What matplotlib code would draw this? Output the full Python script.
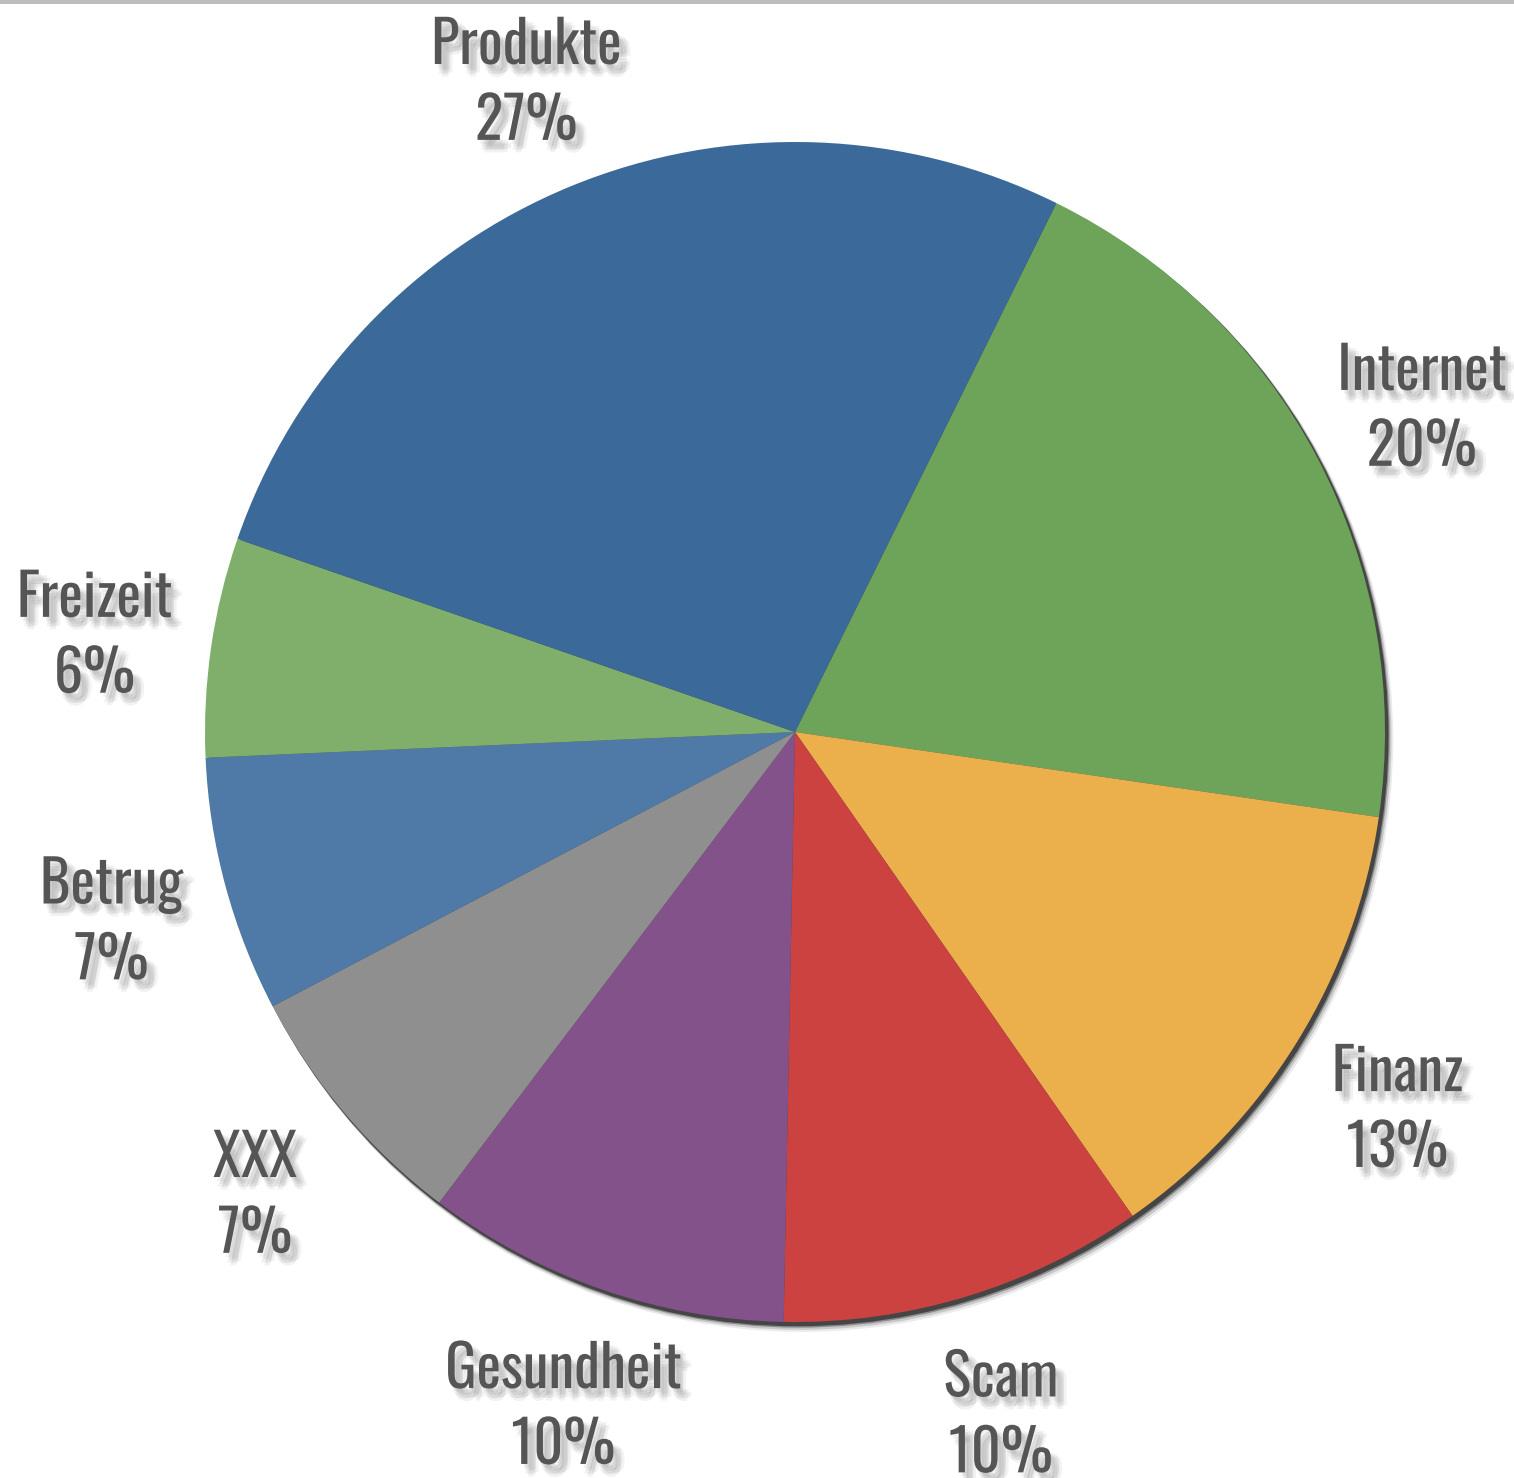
import matplotlib
matplotlib.use("Agg")
import matplotlib.pyplot as plt
import matplotlib.patheffects as pe
import matplotlib.transforms as mtransforms
from matplotlib.patches import Circle, Rectangle

categories = ["Internet", "Finanz", "Scam", "Gesundheit", "XXX", "Betrug", "Freizeit", "Produkte"]
values = [20, 13, 10, 10, 7, 7, 6, 27]
colors = ["#6DA45A", "#EBAF4C", "#CB4240", "#84528B", "#8E8F8E", "#4F7AA8", "#7FAF6B", "#3B6A9A"]

W, H = 1514, 1478
cx, cy, R = 795, 732, 590

fig = plt.figure(figsize=(W / 100, H / 100), dpi=100)
fig.patch.set_facecolor("white")
ax = fig.add_axes([0, 0, 1, 1])
ax.set_xlim(-cx / R, (W - cx) / R)
ax.set_ylim((cy - H) / R, cy / R)
ax.set_aspect("equal")
ax.axis("off")

# soft drop shadow behind pie
for off, a in [(0.014, 0.08), (0.011, 0.15), (0.008, 0.3), (0.006, 0.5)]:
    ax.add_patch(Circle((off * 0.8, -off), 1.0 + off * 0.2, color="black", alpha=a, lw=0, zorder=1))

labels = [f"{c}\n{v}%" for c, v in zip(categories, values)]
wedges, texts = ax.pie(values, colors=colors, startangle=63.7, counterclock=False,
                       radius=1.0, labels=labels, labeldistance=1.2,
                       wedgeprops=dict(linewidth=0),
                       textprops=dict(fontsize=42, color="#555555",
                                      family=["Oswald", "DejaVu Sans"],
                                      fontweight="medium", ha="center", va="center",
                                      linespacing=1.38))
for w in wedges:
    w.set_zorder(2)
shadow = [pe.SimplePatchShadow(offset=o, shadow_rgbFace="#777777", alpha=0.09)
          for o in [(2, -3), (4, -5), (6, -7), (3, -7), (6, -4), (5, -9), (8, -6)]]
shift = mtransforms.ScaledTranslation(0, -7 / 100, fig.dpi_scale_trans)
for t in texts:
    t.set_ha("center")
    t.set_va("center")
    t.set_transform(ax.transData + shift)
    t.set_path_effects(shadow + [pe.Normal()])

ax.set_xlim(-cx / R, (W - cx) / R)
ax.set_ylim((cy - H) / R, cy / R)

fig.add_artist(Rectangle((0, 1 - 4 / H), 1, 4 / H, transform=fig.transFigure,
                         color="#BDBDBD", lw=0))

fig.savefig("out.png", dpi=100)
